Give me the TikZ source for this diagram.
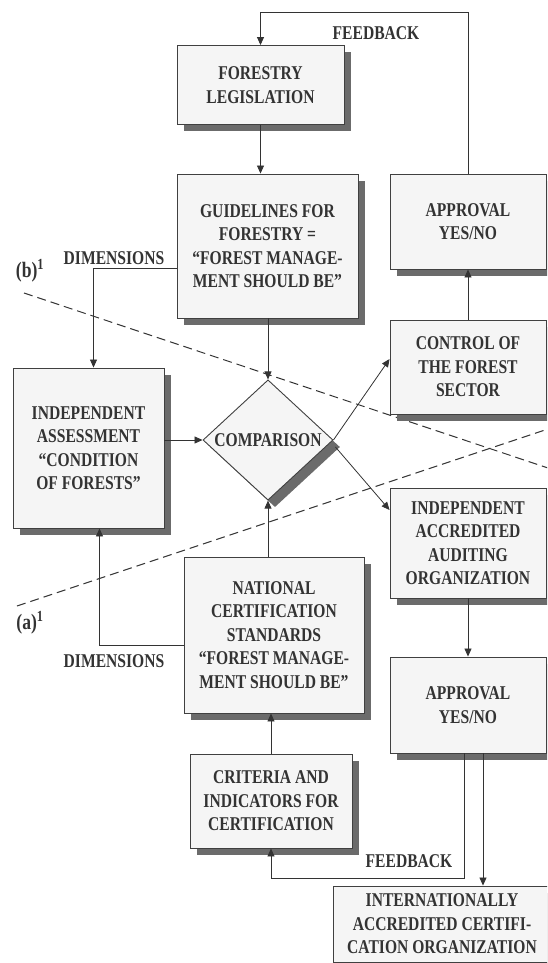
\documentclass[tikz,border=0pt]{standalone}
\usepackage{fontspec}
\setmainfont{Liberation Serif}[FakeStretch=0.8]
\usetikzlibrary{arrows.meta,shapes.geometric,shadows}

\begin{document}
\begin{tikzpicture}[x=1pt,y=-1pt,
    every node/.style={font=\bfseries\fontsize{19.5}{23.5}\selectfont,text=black!80},
    box/.style={draw=black!75,line width=0.9pt,fill=black!4,align=center,inner sep=0pt,
        drop shadow={shadow xshift=7pt,shadow yshift=-7pt,fill=black!58,opacity=1}},
    link/.style={draw=black!80,line width=0.8pt,-{Triangle[length=8pt,width=7pt]}},
    divide/.style={draw=black!80,line width=1pt,dash pattern=on 9pt off 5pt}]
        \useasboundingbox (0,0) rectangle (547,963);
        \clip (0,0) rectangle (547,963);

        \draw [divide] (24,293)--(560,472);
        \draw [divide] (17,606)--(560,425);

        \node [box,minimum width=167pt,minimum height=79pt] (leg) at (260.5,85) {FORESTRY\\LEGISLATION};
        \node [box,minimum width=181pt,minimum height=144pt] (guide) at (267.5,246) {GUIDELINES FOR\\FORESTRY =\\“FOREST MANAGE-\\MENT SHOULD BE”};
        \node [box,minimum width=156pt,minimum height=95pt] (appr1) at (468,221.5) {APPROVAL\\YES/NO};
        \node [box,minimum width=156pt,minimum height=94pt] (ctrl) at (468,367) {CONTROL OF\\THE FOREST\\SECTOR};
        \node [box,minimum width=151pt,minimum height=160pt] (assess) at (88.5,448) {INDEPENDENT\\ASSESSMENT\\“CONDITION\\OF FORESTS”};
        \node [box,shape=diamond,minimum width=130pt,minimum height=120pt] (comp) at (268,440) {COMPARISON};
        \node [box,minimum width=156pt,minimum height=110pt] (iaao) at (468,543) {INDEPENDENT\\ACCREDITED\\AUDITING\\ORGANIZATION};
        \node [box,minimum width=180pt,minimum height=156pt] (ncs) at (274,635) {NATIONAL\\CERTIFICATION\\STANDARDS\\“FOREST MANAGE-\\MENT SHOULD BE”};
        \node [box,minimum width=156pt,minimum height=96pt] (appr2) at (468,705) {APPROVAL\\YES/NO};
        \node [box,minimum width=162pt,minimum height=94pt] (crit) at (271,801) {CRITERIA AND\\INDICATORS FOR\\CERTIFICATION};
        \node [box,minimum width=218pt,minimum height=76pt] (intl) at (442,924) {INTERNATIONALLY\\ACCREDITED CERTIFI-\\CATION ORGANIZATION};

        \node (fbtop) at (376,33) {FEEDBACK};
        \node (fbbot) at (409,861) {FEEDBACK};
        \node (dimtop) at (114,258) {DIMENSIONS};
        \node (dimbot) at (114,661) {DIMENSIONS};
        \node [font=\bfseries\fontsize{22}{24}\selectfont] (lblb) at (30,271) {(b)\textsuperscript{1}};
        \node [font=\bfseries\fontsize{22}{24}\selectfont] (lbla) at (30,623) {(a)\textsuperscript{1}};

        \draw [link] (appr1.north)--++(0,-161) -| (leg.north);
        \draw [link] (leg.south)--(leg.south |- guide.north);
        \draw [link] (guide.south -| comp.north)--(comp.north);
        \draw [link] ([yshift=-22pt]guide.west) -| ([xshift=5pt]assess.north);
        \draw [link] (assess.east |- comp.west)--(comp.west);
        \draw [link] (comp.east)--([yshift=8pt]ctrl.west);
        \draw [link] ([xshift=2pt,yshift=-7pt]comp.east)--([yshift=33pt]iaao.west);
        \draw [link] (ctrl.north)--(appr1.south);
        \draw [link] (ncs.north -| comp.south)--(comp.south);
        \draw [link] ([yshift=-10pt]ncs.west) -| ([xshift=11pt]assess.south);
        \draw [link] (crit.north)--(crit.north |- ncs.south);
        \draw [link] (iaao.south)--(appr2.north);
        \draw [link] ([xshift=-4pt]appr2.south)--++(0,125) -| (crit.south);
        \draw [link] ([xshift=15pt]appr2.south)--([xshift=15pt]appr2.south |- intl.north);
    \end{tikzpicture}
\end{document}
